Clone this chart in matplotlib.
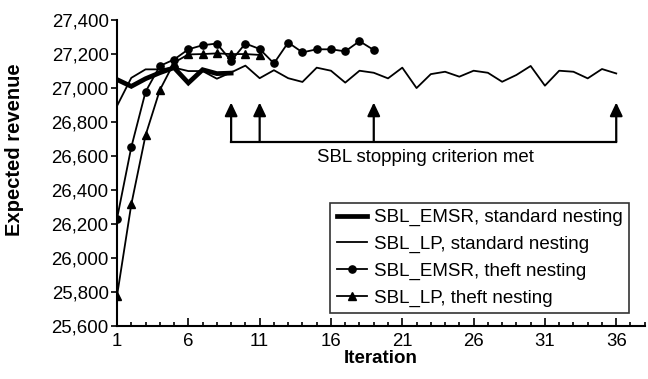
import matplotlib
matplotlib.use("Agg")
import matplotlib.pyplot as plt
from matplotlib.ticker import FuncFormatter, MultipleLocator
import numpy as np

plt.rcParams['font.family'] = ['Liberation Sans', 'DejaVu Sans']

emsr_std = [27050, 27010, 27055, 27090, 27120, 27030, 27108, 27085, 27088]
lp_std = [26895, 27060, 27110, 27110, 27120, 27100, 27100, 27055, 27092, 27132,
          27058, 27105, 27058, 27036, 27120, 27102, 27032, 27102, 27090, 27057,
          27120, 27000, 27082, 27096, 27067, 27102, 27090, 27037, 27077, 27130,
          27014, 27102, 27096, 27057, 27112, 27086]
emsr_theft = [26232, 26652, 26978, 27130, 27168, 27228, 27252, 27262, 27160, 27262,
              27230, 27145, 27268, 27210, 27228, 27228, 27216, 27276, 27224]
lp_theft = [25778, 26315, 26722, 26988, 27150, 27198, 27200, 27204, 27200, 27200, 27195]
stop_iters = [9, 11, 19, 36]
labels = ["SBL_EMSR, standard nesting", "SBL_LP, standard nesting",
          "SBL_EMSR, theft nesting", "SBL_LP, theft nesting"]

fig = plt.figure(figsize=(6.48, 3.79), dpi=100)
ax = fig.add_axes([0.1806, 0.140, 0.8144, 0.807])

def it(v):
    return np.arange(1, len(v) + 1)

ax.plot(it(emsr_std), emsr_std, color='black', lw=3.4, label=labels[0], solid_joinstyle='miter')
ax.plot(it(lp_std), lp_std, color='black', lw=1.3, label=labels[1])
ax.plot(it(emsr_theft), emsr_theft, color='black', lw=1.3, marker='o', ms=5.2, label=labels[2])
ax.plot(it(lp_theft), lp_theft, color='black', lw=1.3, marker='^', ms=5.8, label=labels[3])

# stopping criterion annotation
base_y = 26683
tip_y = 26915
ax.plot([stop_iters[0], stop_iters[-1]], [base_y, base_y], color='black', lw=1.6)
for s in stop_iters:
    ax.annotate('', xy=(s, tip_y), xytext=(s, base_y),
                arrowprops=dict(arrowstyle='-|>,head_length=0.8,head_width=0.38',
                                color='black', lw=1.6, shrinkA=0, shrinkB=0))
ax.text(22.6, 26590, "SBL stopping criterion met", ha='center', va='center', fontsize=13.4)

ax.set_xlim(1, 38)
ax.set_ylim(25600, 27400)
ax.set_xticks([1, 6, 11, 16, 21, 26, 31, 36])
ax.xaxis.set_minor_locator(MultipleLocator(1))
ax.yaxis.set_major_locator(MultipleLocator(200))
ax.yaxis.set_major_formatter(FuncFormatter(lambda v, p: f"{int(v):,}"))
ax.tick_params(axis='x', which='major', direction='in', length=6, width=1.2, labelsize=13.4, pad=5)
ax.tick_params(axis='x', which='minor', direction='in', length=3, width=1.2)
ax.tick_params(axis='y', which='major', direction='out', length=4, width=1.2, labelsize=13.4, pad=2)
for sp in ['top', 'right']:
    ax.spines[sp].set_visible(False)
for sp in ['left', 'bottom']:
    ax.spines[sp].set_linewidth(1.5)

ax.set_xlabel("Iteration", fontsize=13.5, fontweight='bold', labelpad=0)
ax.set_ylabel("Expected revenue", fontsize=14.5, fontweight='bold')
ax.yaxis.set_label_coords(-0.176, 0.575)

leg = ax.legend(loc='lower right', bbox_to_anchor=(0.97, 0.042), fontsize=13.5,
                frameon=True, fancybox=False, edgecolor='black', handlelength=1.6,
                borderpad=0.35, labelspacing=0.5, handletextpad=0.37, borderaxespad=0)
leg.get_frame().set_linewidth(1.2)

fig.savefig("out.png", dpi=100)
